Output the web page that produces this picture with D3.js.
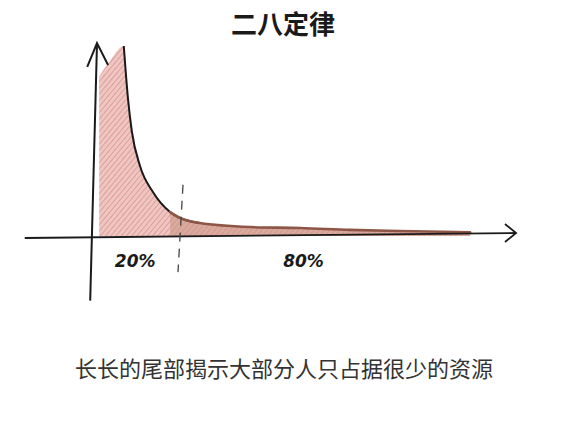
<!DOCTYPE html>
<html><head><meta charset="utf-8">
<script src="https://cdn.jsdelivr.net/npm/d3@7"></script>
<style>body{margin:0;background:#fff;}svg{display:block;}</style>
</head><body>
<script>
// Data (x: % of population, y: share value)
const curveX = [6.3, 7.3, 8.2, 10.1, 13.2, 17.2, 19.5, 24.2, 36, 47.8, 59.5, 71.3, 87.8];
const curveY = [100, 72, 55, 37, 23, 12.6, 9.5, 6.8, 4.7, 4.2, 3.2, 2.6, 2.0];
const fillTopX = [0.5, 3, 6.3];
const fillTopY = [84, 92, 100];
const splitAt = 20;
const labels = ["20%", "80%"];
const labelX = [4.2, 43.8];
const title = "二八定律";
const caption = "长长的尾部揭示大部分人只占据很少的资源";

const W = 577, H = 424;
const svg = d3.select("body").append("svg").attr("width", W).attr("height", H);

const x = d3.scaleLinear().domain([0, 100]).range([97, 522]);
const y = d3.scaleLinear().domain([0, 100]).range([236, 46]);

const defs = svg.append("defs");
const pat = defs.append("pattern").attr("id", "hatch").attr("patternUnits", "userSpaceOnUse")
  .attr("width", 4).attr("height", 4).attr("patternTransform", "rotate(40)");
pat.append("rect").attr("width", 4).attr("height", 4).attr("fill", "#efc6c2");
pat.append("line").attr("x1", 0).attr("y1", 0).attr("x2", 0).attr("y2", 4)
  .attr("stroke", "#d7928b").attr("stroke-width", 1.5);

const pts = curveX.map((d, i) => [d, curveY[i]]);
const fillPts = fillTopX.slice(0, -1).map((d, i) => [d, fillTopY[i]]).concat(pts);

const area = d3.area().x(d => x(d[0])).y0(y(0)).y1(d => y(d[1])).curve(d3.curveMonotoneX);
svg.append("path").datum(fillPts).attr("d", area).attr("fill", "url(#hatch)");

// tail darker fill
const tailPts = pts.filter(d => d[0] >= 17);
svg.append("path").datum(tailPts).attr("d", area).attr("fill", "#c99384").attr("opacity", 0.55);

const line = d3.line().x(d => x(d[0])).y(d => y(d[1])).curve(d3.curveMonotoneX);
// head curve (black)
svg.append("path").datum(pts.filter(d => d[0] <= 24.2)).attr("d", line)
  .attr("fill", "none").attr("stroke", "#1a1a1a").attr("stroke-width", 2);
// tail band (brown)
svg.append("path").datum(tailPts).attr("d", line)
  .attr("fill", "none").attr("stroke", "#8e5646").attr("stroke-width", 2.6).attr("stroke-linecap", "round");

// x axis with arrow
const axY = y(0);
svg.append("line").attr("x1", x(-17)).attr("y1", axY + 2).attr("x2", x(98.6)).attr("y2", axY - 3)
  .attr("stroke", "#1a1a1a").attr("stroke-width", 1.8);
svg.append("path").attr("d", `M${x(96)},${axY - 12} L${x(98.6)},${axY - 3} L${x(96)},${axY + 6}`)
  .attr("fill", "none").attr("stroke", "#1a1a1a").attr("stroke-width", 1.8);

// y axis with arrow
svg.append("line").attr("x1", x(-1.6)).attr("y1", y(-34)).attr("x2", x(0)).attr("y2", y(101.5))
  .attr("stroke", "#1a1a1a").attr("stroke-width", 2);
svg.append("path").attr("d", `M${x(-2.3)},${y(89)} L${x(0)},${y(101.5)} L${x(2.6)},${y(90)}`)
  .attr("fill", "none").attr("stroke", "#1a1a1a").attr("stroke-width", 2);

// dashed split line
svg.append("line").attr("x1", x(splitAt) + 1).attr("y1", y(27)).attr("x2", x(splitAt) - 4).attr("y2", y(-19))
  .attr("stroke", "#444").attr("stroke-width", 1.3).attr("stroke-dasharray", "9,7");

// labels
svg.selectAll("text.lab").data(labels).enter().append("text").attr("class", "lab")
  .attr("x", (d, i) => x(labelX[i])).attr("y", axY + 31)
  .attr("font-family", "DejaVu Sans").attr("font-style", "italic").attr("font-weight", "bold")
  .attr("font-size", 17).attr("fill", "#1a1a1a").text(d => d);

svg.append("text").attr("x", 283).attr("y", 34).attr("text-anchor", "middle")
  .attr("font-family", "Noto Sans CJK SC").attr("font-weight", "bold").attr("font-size", 26)
  .attr("fill", "#1a1a1a").text(title);

svg.append("text").attr("x", 284).attr("y", 377).attr("text-anchor", "middle")
  .attr("font-family", "Noto Sans CJK SC").attr("font-size", 22)
  .attr("fill", "#333").text(caption);
</script>
</body></html>
